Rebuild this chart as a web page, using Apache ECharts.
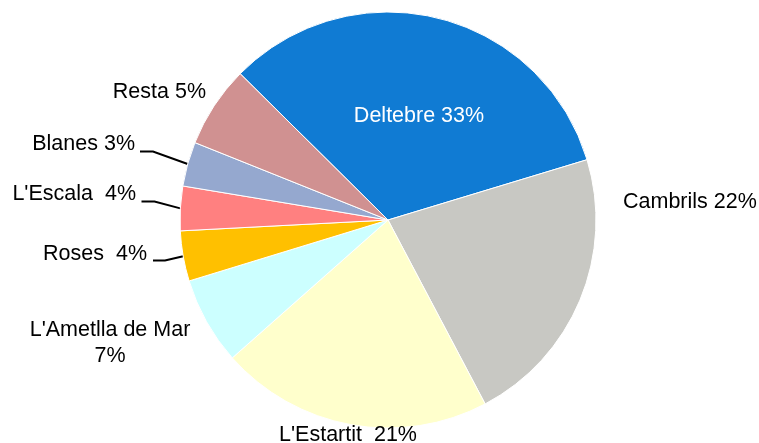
<!DOCTYPE html>
<html>
<head>
<meta charset="utf-8">
<script src="https://cdn.jsdelivr.net/npm/echarts@6/dist/echarts.min.js"></script>
<style>
  html, body { margin: 0; padding: 0; background: #fff; }
  #chart { width: 759px; height: 443px; }
</style>
</head>
<body>
<div id="chart"></div>
<script>
// slices in clockwise order, starting at the top-left edge of Deltebre
const names = ['Deltebre', 'Cambrils', "L'Estartit", "L'Ametlla de Mar", 'Roses', "L'Escala", 'Blanes', 'Resta'];
const values = [32.9, 21.95, 21.2, 6.8, 3.9, 3.45, 3.45, 6.35];
const labelText = ['Deltebre 33%', 'Cambrils 22%', "L'Estartit  21%", "L'Ametlla de Mar\n7%", 'Roses  4%', "L'Escala  4%", 'Blanes 3%', 'Resta 5%'];
const colors = ['#107bd3', '#c8c8c3', '#ffffcc', '#ccffff', '#ffc000', '#ff8080', '#95a8cf', '#d09191'];

// where each label sits (label layout, not data)
const labelSpots = [
    { x: 419, y: 116, align: 'center' },
    { x: 623, y: 202, align: 'left' },
    { x: 348, y: 435, align: 'center' },
    { x: 110, y: 343, align: 'center' },
    { x: 147, y: 254, align: 'right', line: [6, 12, 6.5] },
    { x: 136, y: 194, align: 'right', line: [5.5, 13, 7.5] },
    { x: 135, y: 144, align: 'right', line: [5, 13, 7.5] },
    { x: 206, y: 92, align: 'right' }
];

const chart = echarts.init(document.getElementById('chart'));

const data = names.map((n, i) => ({
    name: n,
    value: values[i],
    itemStyle: { color: colors[i] },
    label: i === 0 ? { position: 'inside', color: '#fff' } : {},
    labelLine: { show: !!labelSpots[i].line }
}));

chart.setOption({
    animation: false,
    series: [
        {
            type: 'pie',
            center: [388, 220],
            radius: 208,
            startAngle: 135.3,
            clockwise: true,
            avoidLabelOverlap: false,
            itemStyle: { borderColor: '#fff', borderWidth: 1 },
            label: {
                show: true,
                position: 'outside',
                fontFamily: 'Liberation Sans, Arial, sans-serif',
                fontSize: 21.5,
                lineHeight: 26,
                color: '#000',
                formatter: (p) => labelText[p.dataIndex]
            },
            labelLine: {
                lineStyle: { color: '#000', width: 2 }
            },
            labelLayout: function (params) {
                const s = labelSpots[params.dataIndex];
                const out = { x: s.x, y: s.y, align: s.align, verticalAlign: 'middle' };
                if (s.line && params.labelLinePoints) {
                    const p0 = params.labelLinePoints[0];
                    const ly = s.y + s.line[2];
                    out.labelLinePoints = [
                        [p0[0], p0[1]],
                        [s.x + s.line[0] + s.line[1], ly],
                        [s.x + s.line[0], ly]
                    ];
                }
                return out;
            },
            data: data
        }
    ]
});
</script>
</body>
</html>
